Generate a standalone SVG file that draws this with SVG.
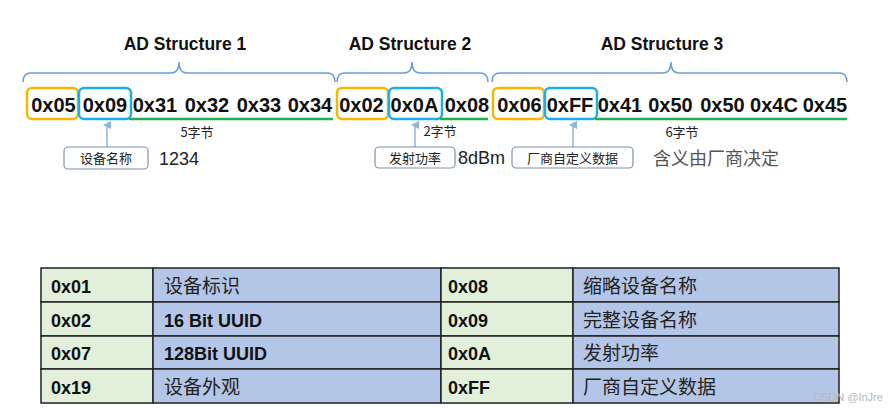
<svg xmlns="http://www.w3.org/2000/svg" width="891" height="411" viewBox="0 0 891 411">
<defs>
<style>
.hex{font-family:"Liberation Sans",Arial,sans-serif;font-weight:bold;font-size:20px;fill:#111;text-anchor:middle}
.title{font-family:"Liberation Sans",Arial,sans-serif;font-weight:bold;font-size:17.5px;fill:#111;text-anchor:middle}
.brace{fill:none;stroke:#6a9fd4;stroke-width:1.5}
.lenbox{fill:none;stroke:#f5b800;stroke-width:2.5}
.typebox{fill:none;stroke:#1eaee6;stroke-width:2.5}
.green{stroke:#22b04a;stroke-width:2.5}
.cnt{font-family:"Noto Sans CJK SC","Liberation Sans",sans-serif;font-size:13px;fill:#222;text-anchor:middle}
.lbl{fill:#fff;stroke:#7f92ab;stroke-width:1.2}
.lbltxt{font-family:"Noto Sans CJK SC",sans-serif;font-size:13px;fill:#222;text-anchor:middle}
.val{font-family:"Liberation Sans","Noto Sans CJK SC",sans-serif;font-size:18px;fill:#222}
.arrow{stroke:#8fb3d9;stroke-width:1.5;fill:none}
.gcell{fill:#e2efda;stroke:#222;stroke-width:1.5}
.bcell{fill:#b4c6e7;stroke:#222;stroke-width:1.5}
.tb{font-family:"Liberation Sans",Arial,sans-serif;font-weight:bold;font-size:18px;fill:#111}
.tc{font-family:"Noto Sans CJK SC",sans-serif;font-size:19px;fill:#222}
</style>
<marker id="ah" markerWidth="8" markerHeight="8" refX="4" refY="4" orient="auto" markerUnits="userSpaceOnUse">
<path d="M0,8 L4,0 L8,8 Z" fill="#8fb3d9"/>
</marker>
</defs>
<rect width="891" height="411" fill="#fff"/>

<g id="structure1">
<text class="title" x="185" y="50">AD Structure 1</text>
<path class="brace" d="M23,82 Q23,73 31,73 L171,73 Q179,73 179,62 Q179,73 187,73 L327,73 Q335,73 335,82"/>
<rect class="lenbox" x="27" y="88" width="51" height="31" rx="5"/>
<rect class="typebox" x="79" y="88" width="52" height="31" rx="5"/>
<line class="green" x1="129" y1="119" x2="333" y2="119"/>
<text class="hex" x="53.5" y="112">0x05</text>
<text class="hex" x="105" y="112">0x09</text>
<text class="hex" x="155" y="112">0x31</text>
<text class="hex" x="207" y="112">0x32</text>
<text class="hex" x="259" y="112">0x33</text>
<text class="hex" x="310" y="112">0x34</text>
<text class="cnt" x="197" y="137">5字节</text>
</g>

<g id="structure2">
<text class="title" x="410" y="50">AD Structure 2</text>
<path class="brace" d="M337,82 Q337,73 345,73 L404,73 Q412,73 412,62 Q412,73 420,73 L480,73 Q488,73 488,82"/>
<rect class="lenbox" x="337" y="88" width="51" height="31" rx="5"/>
<rect class="typebox" x="389" y="88" width="53" height="31" rx="5"/>
<line class="green" x1="440" y1="119" x2="488" y2="119"/>
<text class="hex" x="361.5" y="112">0x02</text>
<text class="hex" x="414.5" y="112">0x0A</text>
<text class="hex" x="467" y="112">0x08</text>
<text class="cnt" x="440" y="136">2字节</text>
</g>

<g id="structure3">
<text class="title" x="662" y="50">AD Structure 3</text>
<path class="brace" d="M492,82 Q492,73 500,73 L663,73 Q671,73 671,62 Q671,73 679,73 L839,73 Q847,73 847,82"/>
<rect class="lenbox" x="493" y="88" width="51" height="31" rx="5"/>
<rect class="typebox" x="545" y="88" width="52" height="31" rx="5"/>
<line class="green" x1="595" y1="119" x2="847" y2="119"/>
<text class="hex" x="519.5" y="112">0x06</text>
<text class="hex" x="570" y="112">0xFF</text>
<text class="hex" x="620" y="112">0x41</text>
<text class="hex" x="670.5" y="112">0x50</text>
<text class="hex" x="722.5" y="112">0x50</text>
<text class="hex" x="774" y="112">0x4C</text>
<text class="hex" x="825" y="112">0x45</text>
<text class="cnt" x="682" y="137">6字节</text>
</g>

<g id="connectors">
<line class="arrow" x1="107" y1="147" x2="107" y2="125" marker-end="url(#ah)"/>
<line class="arrow" x1="415" y1="147" x2="415" y2="125" marker-end="url(#ah)"/>
<line class="arrow" x1="573" y1="147" x2="573" y2="125" marker-end="url(#ah)"/>
</g>

<g id="label-name">
<rect class="lbl" x="64" y="147" width="84" height="22" rx="4"/>
<text class="lbltxt" x="106" y="163">设备名称</text>
<text class="val" x="159" y="165">1234</text>
</g>
<g id="label-power">
<rect class="lbl" x="375" y="147" width="80" height="21" rx="4"/>
<text class="lbltxt" x="415" y="162.5">发射功率</text>
<text class="val" x="458" y="164">8dBm</text>
</g>
<g id="label-vendor">
<rect class="lbl" x="512" y="147" width="121" height="21" rx="4"/>
<text class="lbltxt" x="572.5" y="162.5">厂商自定义数据</text>
<text class="val" x="653" y="165" style="fill:#555">含义由厂商决定</text>
</g>

<g id="table">
<rect class="gcell" x="41" y="268" width="112" height="34"/>
<rect class="bcell" x="153" y="268" width="288" height="34"/>
<rect class="gcell" x="441" y="268" width="132" height="34"/>
<rect class="bcell" x="573" y="268" width="266" height="34"/>
<rect class="gcell" x="41" y="302" width="112" height="34"/>
<rect class="bcell" x="153" y="302" width="288" height="34"/>
<rect class="gcell" x="441" y="302" width="132" height="34"/>
<rect class="bcell" x="573" y="302" width="266" height="34"/>
<rect class="gcell" x="41" y="336" width="112" height="33"/>
<rect class="bcell" x="153" y="336" width="288" height="33"/>
<rect class="gcell" x="441" y="336" width="132" height="33"/>
<rect class="bcell" x="573" y="336" width="266" height="33"/>
<rect class="gcell" x="41" y="369" width="112" height="34"/>
<rect class="bcell" x="153" y="369" width="288" height="34"/>
<rect class="gcell" x="441" y="369" width="132" height="34"/>
<rect class="bcell" x="573" y="369" width="266" height="34"/>

<text class="tb" x="51" y="293">0x01</text>
<text class="tc" x="164" y="293">设备标识</text>
<text class="tb" x="448" y="293">0x08</text>
<text class="tc" x="583" y="293">缩略设备名称</text>

<text class="tb" x="51" y="327">0x02</text>
<text class="tb" x="164" y="327">16 Bit UUID</text>
<text class="tb" x="448" y="327">0x09</text>
<text class="tc" x="583" y="327">完整设备名称</text>

<text class="tb" x="51" y="360">0x07</text>
<text class="tb" x="164" y="360">128Bit UUID</text>
<text class="tb" x="448" y="360">0x0A</text>
<text class="tc" x="583" y="360">发射功率</text>

<text class="tb" x="51" y="394">0x19</text>
<text class="tc" x="164" y="394">设备外观</text>
<text class="tb" x="448" y="394">0xFF</text>
<text class="tc" x="583" y="394">厂商自定义数据</text>
</g>

<text x="813" y="401" style="font-family:'Liberation Sans',sans-serif;font-size:11px;fill:#b8b8b8">CSDN @InJre</text>
</svg>
